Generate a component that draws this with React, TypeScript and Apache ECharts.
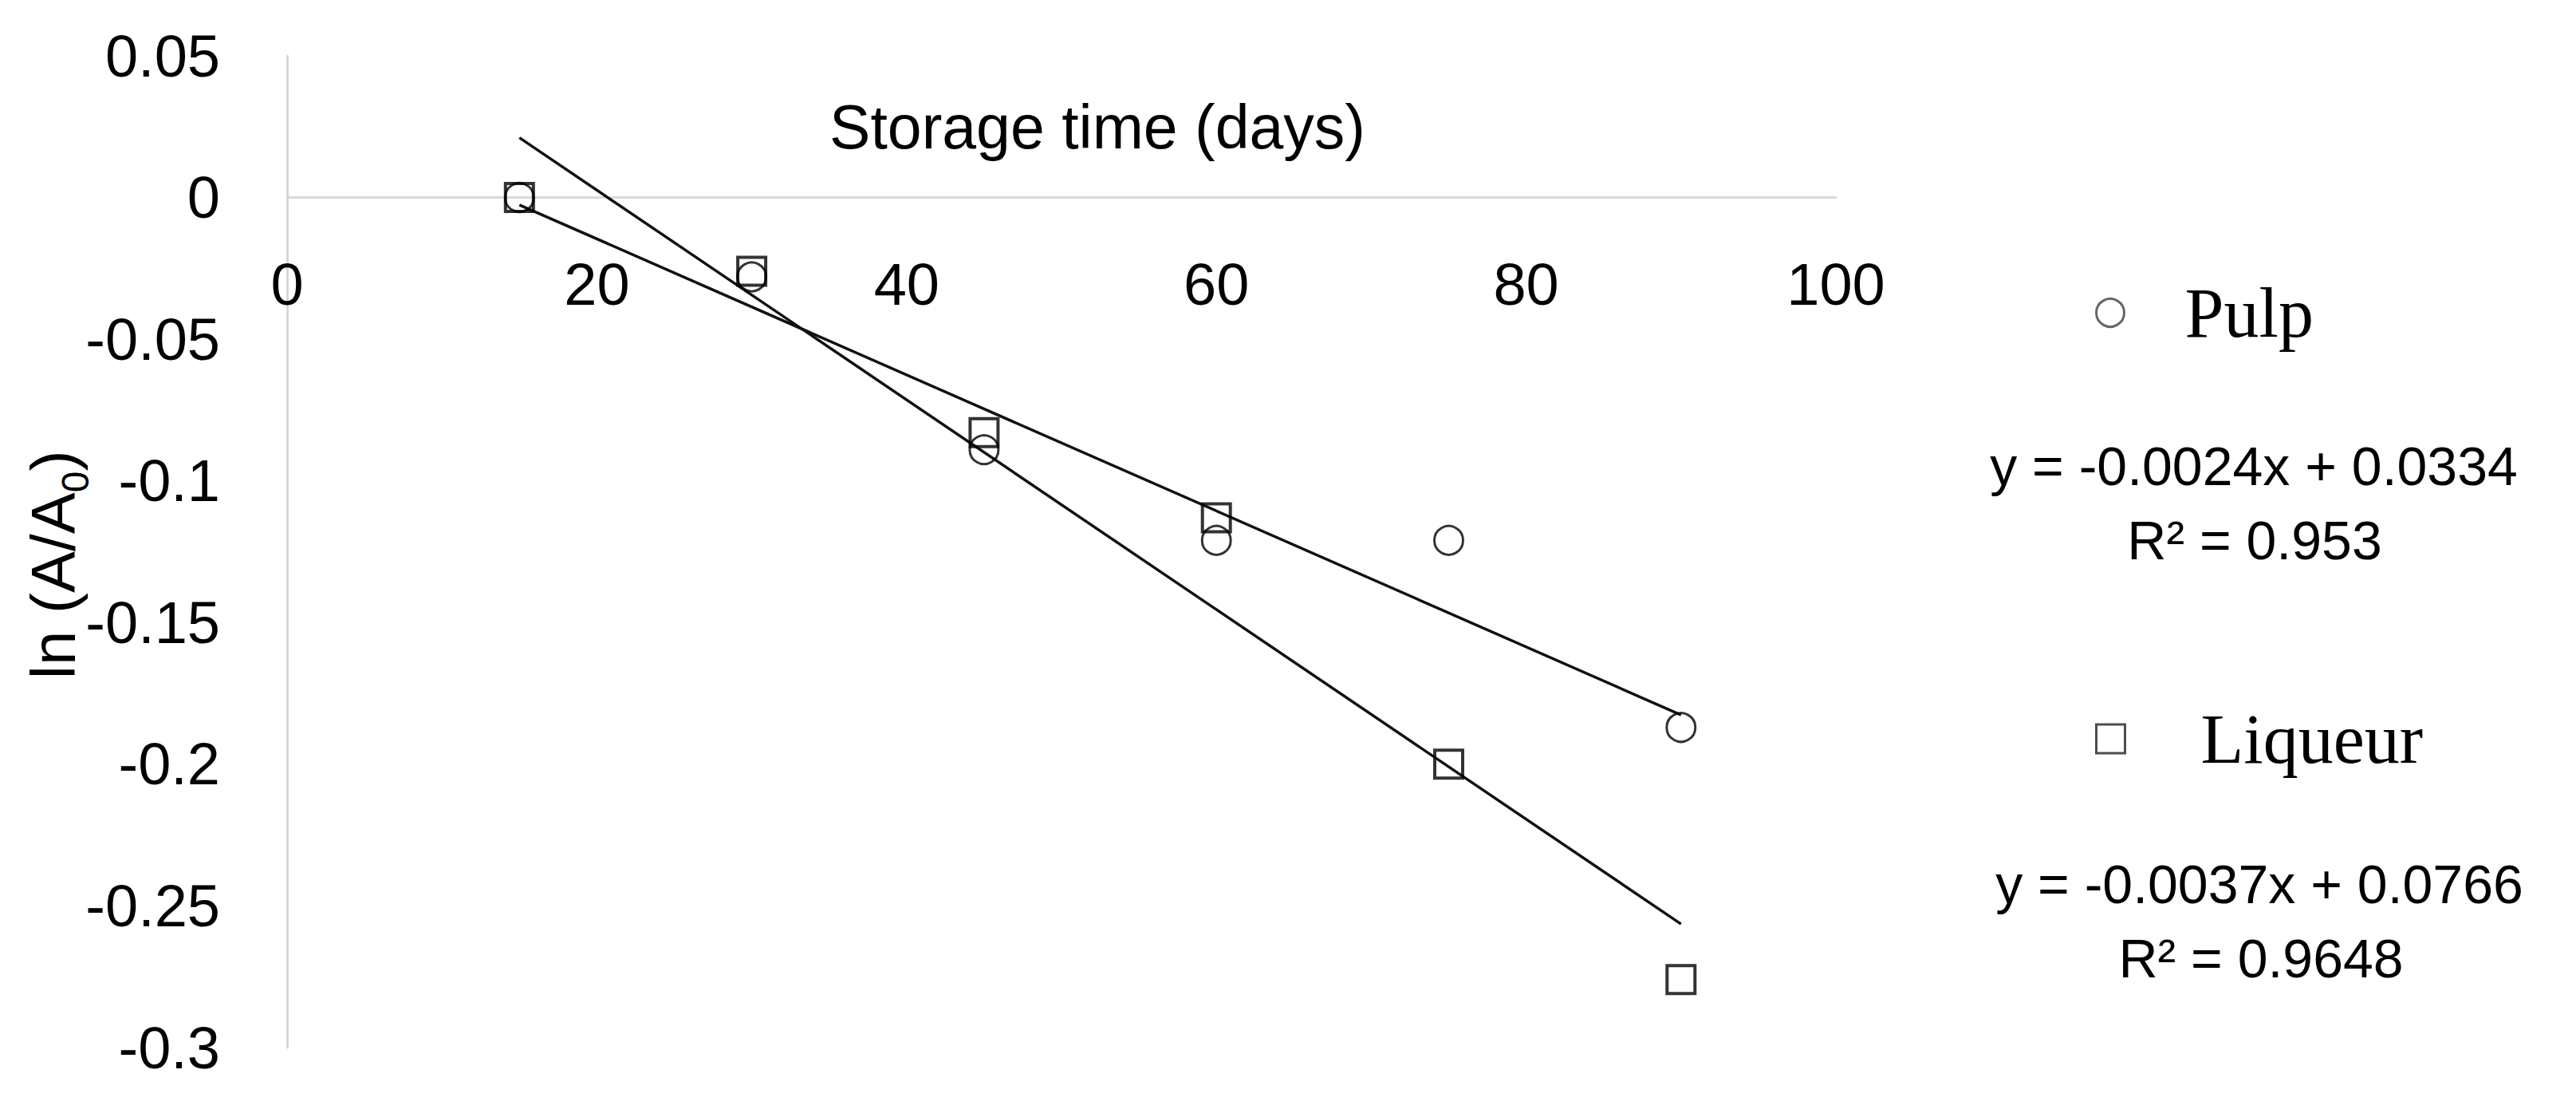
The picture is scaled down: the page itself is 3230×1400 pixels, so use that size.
import React, { useEffect, useRef } from "react";
import * as echarts from "echarts";

// ---- data ----
const days = [15, 30, 45, 60, 75, 90];
const pulpValues = [0, -0.028, -0.089, -0.121, -0.121, -0.187];
const liqueurValues = [0, -0.026, -0.083, -0.113, -0.2, -0.276];
const seriesNames = ["Pulp", "Liqueur"];
const pulpFit = [-0.0024, 0.0334]; // slope, intercept
const liqueurFit = [-0.0037, 0.0766];
const r2Values = [0.953, 0.9648];
const fitRange = [15, 90];
const xAxisTitle = "Storage time (days)";

const SANS = "'Liberation Sans', Arial, sans-serif";
const SERIF = "'Liberation Serif', 'Times New Roman', serif";

// layout
const GRID = { left: 360, top: 70, width: 1942, height: 1243 };
const Y_MIN = -0.3;
const Y_MAX = 0.05;

function trend(fit: number[]) {
  return fitRange.map((x) => [x, fit[0] * x + fit[1]]);
}
function eqText(fit: number[]) {
  const sign = fit[1] >= 0 ? "+" : "-";
  return `y = ${fit[0]}x ${sign} ${Math.abs(fit[1])}`;
}

export default function App() {
  const ref = useRef<HTMLDivElement>(null);
  useEffect(() => {
    if (!ref.current) return;
    const chart = echarts.init(ref.current, null, { renderer: "svg" });
    const axisLineStyle = { color: "#d9d9d9", width: 3 };
    // move the x axis (line and labels) up to y = 0
    const zeroOffset = -(GRID.height * (0 - Y_MIN)) / (Y_MAX - Y_MIN);
    const option: any = {
      animation: false,
      backgroundColor: "#ffffff",
      grid: {
        ...GRID,
        containLabel: false,
        outerBoundsMode: "none",
      },
      xAxis: {
        type: "value",
        min: 0,
        max: 100,
        interval: 20,
        position: "bottom",
        offset: zeroOffset,
        axisLine: { show: true, onZero: false, lineStyle: axisLineStyle },
        axisTick: { show: false },
        splitLine: { show: false },
        axisLabel: {
          margin: 72,
          fontSize: 74,
          fontFamily: SANS,
          color: "#000",
        },
      },
      yAxis: {
        type: "value",
        min: Y_MIN,
        max: Y_MAX,
        interval: 0.05,
        axisLine: { show: true, onZero: false, lineStyle: axisLineStyle },
        axisTick: { show: false },
        splitLine: { show: false },
        axisLabel: {
          margin: 84,
          fontSize: 74,
          fontFamily: SANS,
          color: "#000",
        },
      },
      legend: [
        {
          data: [seriesNames[0]],
          left: 2627,
          top: 348,
          padding: 0,
          orient: "vertical",
          itemWidth: 35,
          itemHeight: 35,
          selectedMode: false,
          itemStyle: { color: "transparent", borderColor: "#404040", borderWidth: 3 },
          textStyle: {
            fontFamily: SERIF,
            fontSize: 88,
            lineHeight: 88,
            color: "#000",
            padding: [0, 0, 0, 71],
          },
        },
        {
          data: [seriesNames[1]],
          left: 2627,
          top: 882,
          padding: 0,
          orient: "vertical",
          itemWidth: 36,
          itemHeight: 36,
          selectedMode: false,
          itemStyle: { color: "transparent", borderColor: "#202020", borderWidth: 3 },
          textStyle: {
            fontFamily: SERIF,
            fontSize: 88,
            lineHeight: 88,
            color: "#000",
            padding: [0, 0, 0, 90],
          },
        },
      ],
      series: [
        {
          name: seriesNames[0] + " trend",
          type: "line",
          data: trend(pulpFit),
          showSymbol: false,
          symbol: "none",
          silent: true,
          lineStyle: { color: "#111", width: 3.5 },
          z: 2,
        },
        {
          name: seriesNames[1] + " trend",
          type: "line",
          data: trend(liqueurFit),
          showSymbol: false,
          symbol: "none",
          silent: true,
          lineStyle: { color: "#111", width: 3.5 },
          z: 2,
        },
        {
          name: seriesNames[0],
          type: "scatter",
          data: days.map((d, i) => [d, pulpValues[i]]),
          symbol: "circle",
          symbolSize: 36,
          itemStyle: { color: "transparent", borderColor: "#000", borderWidth: 3 },
          z: 3,
        },
        {
          name: seriesNames[1],
          type: "scatter",
          data: days.map((d, i) => [d, liqueurValues[i]]),
          symbol: "rect",
          symbolSize: 35,
          itemStyle: { color: "transparent", borderColor: "#000", borderWidth: 4 },
          z: 4,
        },
      ],
      graphic: [
        {
          type: "text",
          x: 1376,
          y: 159,
          style: {
            text: xAxisTitle,
            fontFamily: SANS,
            fontSize: 77,
            fill: "#000",
            align: "center",
            verticalAlign: "middle",
          },
        },
        {
          type: "text",
          x: 73,
          y: 708,
          rotation: Math.PI / 2,
          style: {
            text: "{a|ln (A/A}{s|0}{a|)}",
            fill: "#000",
            align: "center",
            verticalAlign: "middle",
            rich: {
              a: {
                fontFamily: SANS,
                fontSize: 78,
                lineHeight: 90,
                verticalAlign: "top",
                fill: "#000",
              },
              s: {
                fontFamily: SANS,
                fontSize: 48,
                lineHeight: 48,
                verticalAlign: "bottom",
                fill: "#000",
              },
            },
          },
        },
        {
          type: "text",
          x: 2826,
          y: 584,
          style: {
            text: eqText(pulpFit),
            fontFamily: SANS,
            fontSize: 68,
            fill: "#000",
            align: "center",
            verticalAlign: "middle",
          },
        },
        {
          type: "text",
          x: 2827,
          y: 677,
          style: {
            text: `R² = ${r2Values[0]}`,
            fontFamily: SANS,
            fontSize: 68,
            fill: "#000",
            align: "center",
            verticalAlign: "middle",
          },
        },
        {
          type: "text",
          x: 2833,
          y: 1108,
          style: {
            text: eqText(liqueurFit),
            fontFamily: SANS,
            fontSize: 68,
            fill: "#000",
            align: "center",
            verticalAlign: "middle",
          },
        },
        {
          type: "text",
          x: 2835,
          y: 1201,
          style: {
            text: `R² = ${r2Values[1]}`,
            fontFamily: SANS,
            fontSize: 68,
            fill: "#000",
            align: "center",
            verticalAlign: "middle",
          },
        },
      ],
    };
    chart.setOption(option);
    return () => chart.dispose();
  }, []);
  return (
    <div
      ref={ref}
      style={{ position: "absolute", left: 0, top: 0, width: 3230, height: 1400, background: "#fff" }}
    />
  );
}
